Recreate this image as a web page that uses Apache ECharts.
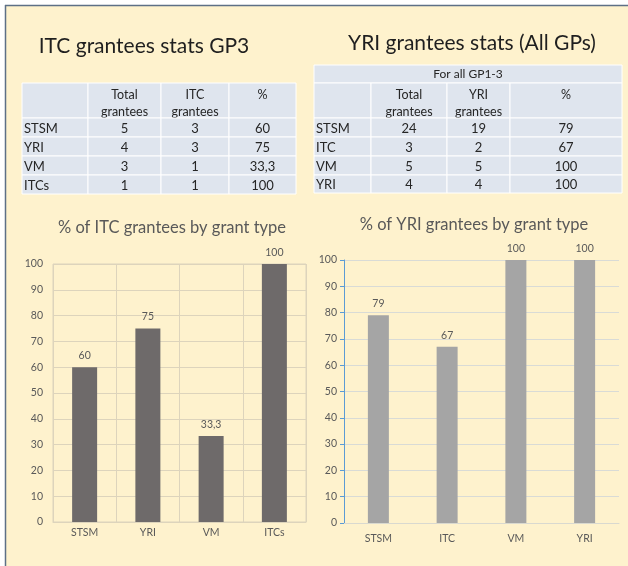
<!DOCTYPE html>
<html><head><meta charset="utf-8">
<script src="https://cdn.jsdelivr.net/npm/echarts@6/dist/echarts.min.js"></script>
<style>html,body{margin:0;padding:0;background:#fff;}#c{width:628px;height:566px;}</style>
</head><body><div id="c"></div>
<script>
// ---- data ----
const itcTitle = 'ITC grantees stats GP3';
const yriTitle = 'YRI grantees stats (All GPs)';
const itcTableHeader = ['', 'Total\ngrantees', 'ITC\ngrantees', '%'];
const itcTableRows = [
  ['STSM', '5', '3', '60'],
  ['YRI', '4', '3', '75'],
  ['VM', '3', '1', '33,3'],
  ['ITCs', '1', '1', '100']
];
const yriTableCaption = 'For all GP1-3';
const yriTableHeader = ['', 'Total\ngrantees', 'YRI\ngrantees', '%'];
const yriTableRows = [
  ['STSM', '24', '19', '79'],
  ['ITC', '3', '2', '67'],
  ['VM', '5', '5', '100'],
  ['YRI', '4', '4', '100']
];
const itcChartTitle = '% of ITC grantees by grant type';
const itcCategories = ['STSM', 'YRI', 'VM', 'ITCs'];
const itcValues = [60, 75, 33.3, 100];
const yriChartTitle = '% of YRI grantees by grant type';
const yriCategories = ['STSM', 'ITC', 'VM', 'YRI'];
const yriValues = [79, 67, 100, 100];

// ---- layout helpers ----
const FONT = 'Lato, "Open Sans", sans-serif';
const BG = '#fef2cd';
const CELL = '#dfe5ee';

function buildTable(colEdges, yHeaderTop, rowEdges, header, rows, caption, capTop) {
  const els = [];
  const fullW = colEdges[colEdges.length - 1] - colEdges[0];
  if (caption) {
    els.push({type: 'rect', shape: {x: colEdges[0], y: capTop, width: fullW, height: yHeaderTop - capTop},
      style: {fill: CELL, stroke: '#ffffff', lineWidth: 1}});
    els.push({type: 'text', style: {text: caption, x: colEdges[0] + fullW / 2, y: (capTop + yHeaderTop) / 2,
      textAlign: 'center', textVerticalAlign: 'middle', font: '12px ' + FONT, fill: '#262626'}});
  }
  for (let c = 0; c < header.length; c++) {
    const cx0 = colEdges[c], cx1 = colEdges[c + 1];
    els.push({type: 'rect', shape: {x: cx0, y: yHeaderTop, width: cx1 - cx0, height: rowEdges[0] - yHeaderTop},
      style: {fill: CELL, stroke: '#ffffff', lineWidth: 1}});
    if (header[c]) {
      els.push({type: 'text', style: {text: header[c], x: (cx0 + cx1) / 2, y: yHeaderTop + 3,
        textAlign: 'center', textVerticalAlign: 'top', font: '12.5px ' + FONT, fill: '#262626', lineHeight: 17}});
    }
  }
  for (let r = 0; r < rows.length; r++) {
    const y0 = rowEdges[r], y1 = rowEdges[r + 1];
    for (let c = 0; c < rows[r].length; c++) {
      const cx0 = colEdges[c], cx1 = colEdges[c + 1];
      els.push({type: 'rect', shape: {x: cx0, y: y0, width: cx1 - cx0, height: y1 - y0},
        style: {fill: CELL, stroke: '#ffffff', lineWidth: 1}});
      els.push({type: 'text', style: {text: rows[r][c], x: c === 0 ? cx0 + 2 : (cx0 + cx1) / 2, y: (y0 + y1) / 2 + 1,
        textAlign: c === 0 ? 'left' : 'center', textVerticalAlign: 'middle', font: '13px ' + FONT, fill: '#262626'}});
    }
  }
  return els;
}

const graphics = [];
graphics.push({type: 'rect', z: -10, shape: {x: 5, y: 5, width: 623, height: 561}, style: {fill: BG}});
graphics.push({type: 'line', shape: {x1: 5, y1: 5.5, x2: 628, y2: 5.5}, style: {stroke: '#5d7086', lineWidth: 1.5}});
graphics.push({type: 'line', shape: {x1: 5.5, y1: 5, x2: 5.5, y2: 566}, style: {stroke: '#5d7086', lineWidth: 1.5}});
graphics.push({type: 'text', style: {text: itcTitle, x: 144, y: 46, textAlign: 'center', textVerticalAlign: 'middle',
  font: '21px ' + FONT, fill: '#1f1f1f'}});
graphics.push({type: 'text', style: {text: yriTitle, x: 472, y: 43, textAlign: 'center', textVerticalAlign: 'middle',
  font: '21px ' + FONT, fill: '#1f1f1f'}});
graphics.push(...buildTable([22, 88, 161, 229, 296], 83, [118, 137, 156, 175, 194], itcTableHeader, itcTableRows, null, 0));
graphics.push(...buildTable([314, 371, 447, 510, 622], 83, [118, 137, 156, 175, 193], yriTableHeader, yriTableRows, yriTableCaption, 65));

const chart = echarts.init(document.getElementById('c'), null, {renderer: 'canvas'});
const commaFmt = p => String(p.value).replace('.', ',');
chart.setOption({
  backgroundColor: '#ffffff',
  animation: false,
  title: [
    {text: itcChartTitle, left: 167, top: 214, textAlign: 'center',
      textStyle: {fontFamily: FONT, fontSize: 16.5, fontWeight: 'normal', color: '#595959'}},
    {text: yriChartTitle, left: 469, top: 211, textAlign: 'center',
      textStyle: {fontFamily: FONT, fontSize: 16.5, fontWeight: 'normal', color: '#595959'}}
  ],
  graphic: graphics,
  grid: [
    {left: 53, top: 264, width: 253, height: 258, show: true, borderColor: '#ddd4bc', borderWidth: 1, backgroundColor: 'transparent'},
    {left: 344, top: 260, width: 275, height: 263}
  ],
  xAxis: [
    {type: 'category', gridIndex: 0, data: itcCategories,
      axisLine: {lineStyle: {color: '#ddd4bc'}}, axisTick: {show: false},
      splitLine: {show: true, lineStyle: {color: '#ddd4bc'}},
      axisLabel: {color: '#595959', fontFamily: FONT, fontSize: 10.5, margin: 5}},
    {type: 'category', gridIndex: 1, data: yriCategories,
      axisLine: {lineStyle: {color: '#d9d9d0'}}, axisTick: {show: false},
      axisLabel: {color: '#595959', fontFamily: FONT, fontSize: 10.5, margin: 10}}
  ],
  yAxis: [
    {type: 'value', gridIndex: 0, min: 0, max: 100, interval: 10,
      axisLine: {show: false}, axisTick: {show: false},
      splitLine: {lineStyle: {color: '#ddd4bc'}},
      axisLabel: {color: '#595959', fontFamily: FONT, fontSize: 10.5, margin: 10}},
    {type: 'value', gridIndex: 1, min: 0, max: 100, interval: 10,
      axisLine: {show: true, lineStyle: {color: '#5b9bd5', width: 1}},
      axisTick: {show: true, length: 4, lineStyle: {color: '#5b9bd5'}},
      splitLine: {lineStyle: {color: '#d9dbd6'}},
      axisLabel: {color: '#595959', fontFamily: FONT, fontSize: 10.5, margin: 7}}
  ],
  series: [
    {type: 'bar', xAxisIndex: 0, yAxisIndex: 0, data: itcValues, barWidth: 25,
      itemStyle: {color: '#6e6a6a'},
      label: {show: true, position: 'top', distance: 6, color: '#595959', fontFamily: FONT, fontSize: 10.5, formatter: commaFmt}},
    {type: 'bar', xAxisIndex: 1, yAxisIndex: 1, data: yriValues, barWidth: 21,
      itemStyle: {color: '#a5a5a5'},
      label: {show: true, position: 'top', distance: 6, color: '#595959', fontFamily: FONT, fontSize: 10.5, formatter: commaFmt}}
  ]
});
</script>
</body></html>
